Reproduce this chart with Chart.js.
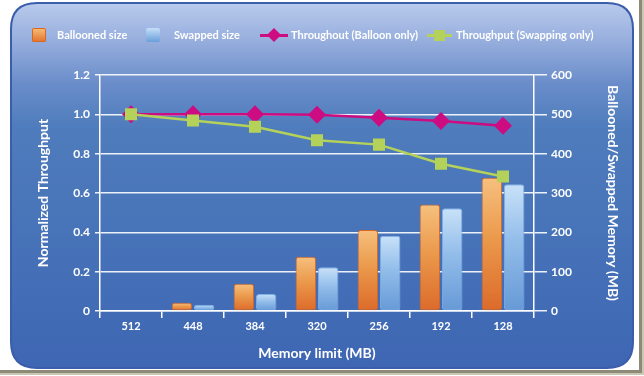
<!DOCTYPE html>
<html>
<head>
<meta charset="utf-8">
<script src="https://cdn.jsdelivr.net/npm/chart.js@4.4.1/dist/chart.umd.min.js"></script>
<style>
  html, body { margin: 0; padding: 0; background: #fff; }
  #wrap { position: relative; width: 644px; height: 376px; }
  canvas { position: absolute; left: 0; top: 0; }
  .lg { position: absolute; top: 27px; height: 16px; font: bold 11px Lato, "Open Sans", sans-serif; color: #fff; line-height: 16px; white-space: nowrap; }
  .sw { position: absolute; }
</style>
</head>
<body>
<div id="wrap">
  <canvas id="c" width="644" height="376"></canvas>
  <div id="legend"></div>
</div>
<script>
// ---- data ----
const categories = ['512', '448', '384', '320', '256', '192', '128'];
const balloonedSize = [0, 21, 69, 138, 206, 271, 339];
const swappedSize = [0, 16, 43, 111, 191, 261, 322];
const throughputBalloon = [1.0, 1.0, 1.0, 0.998, 0.983, 0.966, 0.942];
const throughputSwap = [1.0, 0.969, 0.937, 0.868, 0.846, 0.749, 0.684];
const leftTickLabels = ['0', '0.2', '0.4', '0.6', '0.8', '1.0', '1.2'];
const rightTickLabels = ['0', '100', '200', '300', '400', '500', '600'];
const seriesNames = ['Ballooned size', 'Swapped size', 'Throughout (Balloon only)', 'Throughput (Swapping only)'];

const FONT = 'Lato, "Open Sans", sans-serif';
const MAGENTA = '#cc0c80';
const GREEN = '#b4d25a';

// ---- legend (HTML) ----
(function () {
  const lg = document.getElementById('legend');
  const items = [
    { sw: '<div class="sw" style="left:32px;top:28px;width:14px;height:14px;border-radius:2px;background:linear-gradient(#f6c07a,#e2712c);box-shadow:0 0 0 1px #d9681f inset"></div>', tx: 57 },
    { sw: '<div class="sw" style="left:146px;top:28px;width:14px;height:14px;border-radius:2px;background:linear-gradient(#c4def7,#6a9fdb)"></div>', tx: 174 },
    { sw: '<div class="sw" style="left:260px;top:34px;width:28px;height:2.5px;background:' + MAGENTA + '"></div><div class="sw" style="left:269px;top:30px;width:10px;height:10px;background:' + MAGENTA + ';transform:rotate(45deg)"></div>', tx: 291 },
    { sw: '<div class="sw" style="left:427px;top:34px;width:25px;height:2.5px;background:' + GREEN + '"></div><div class="sw" style="left:434px;top:30px;width:11px;height:11px;background:' + GREEN + '"></div>', tx: 456 }
  ];
  let html = '';
  items.forEach((it, i) => {
    html += it.sw + '<div class="lg" style="left:' + it.tx + 'px">' + seriesNames[i] + '</div>';
  });
  lg.innerHTML = html;
})();

// ---- background plugin ----
function roundRect(ctx, x, y, w, h, r) {
  ctx.beginPath();
  ctx.moveTo(x + r, y);
  ctx.lineTo(x + w - r, y);
  ctx.quadraticCurveTo(x + w, y, x + w, y + r);
  ctx.lineTo(x + w, y + h - r);
  ctx.quadraticCurveTo(x + w, y + h, x + w - r, y + h);
  ctx.lineTo(x + r, y + h);
  ctx.quadraticCurveTo(x, y + h, x, y + h - r);
  ctx.lineTo(x, y + r);
  ctx.quadraticCurveTo(x, y, x + r, y);
  ctx.closePath();
}
const bgPlugin = {
  id: 'bg',
  beforeDraw(chart) {
    const ctx = chart.ctx;
    ctx.save();
    ctx.fillStyle = '#ffffff';
    ctx.fillRect(0, 0, chart.width, chart.height);
    ctx.fillStyle = '#8d8b78';
    ctx.fillRect(639, 0, 3, 373);
    ctx.fillRect(0, 370, 642, 3);
    ctx.fillStyle = '#c9c6b4';
    ctx.fillRect(642, 0, 2, 374);
    ctx.fillRect(0, 373, 644, 2);
    const g = ctx.createLinearGradient(0, 3, 0, 368);
    g.addColorStop(0, '#b8caec');
    g.addColorStop(0.10, '#98afde');
    g.addColorStop(0.22, '#6a8dca');
    g.addColorStop(0.34, '#4f7cbc');
    g.addColorStop(0.6, '#4874b9');
    g.addColorStop(1, '#3e66b3');
    roundRect(ctx, 11, 3, 622, 365, 26);
    ctx.fillStyle = g;
    ctx.fill();
    ctx.lineWidth = 2;
    ctx.strokeStyle = '#3a5eac';
    ctx.stroke();
    ctx.restore();
  }
};

function barGradient(stops) {
  return function (c) {
    const chart = c.chart;
    if (!chart.chartArea || c.type !== 'data') return stops[stops.length - 1];
    const s = chart.scales.y2;
    const y0 = s.getPixelForValue(c.raw);
    let y1 = s.getPixelForValue(0);
    if (y1 - y0 < 1) y1 = y0 + 1;
    const g = chart.ctx.createLinearGradient(0, y0, 0, y1);
    g.addColorStop(0, stops[0]);
    g.addColorStop(0.45, stops[1]);
    g.addColorStop(1, stops[2]);
    return g;
  };
}

const tickFont = { family: FONT, size: 12, weight: 'bold' };
const titleFont = { family: FONT, size: 14, weight: 'bold' };

new Chart(document.getElementById('c'), {
  type: 'bar',
  data: {
    labels: categories,
    datasets: [
      {
        type: 'line', label: seriesNames[2], data: throughputBalloon, yAxisID: 'y', order: 1,
        borderColor: MAGENTA, backgroundColor: MAGENTA, borderWidth: 2.5,
        pointStyle: 'rectRot', pointRadius: 9, pointBorderWidth: 0, tension: 0
      },
      {
        type: 'line', label: seriesNames[3], data: throughputSwap, yAxisID: 'y', order: 0,
        borderColor: GREEN, backgroundColor: GREEN, borderWidth: 2.5,
        pointStyle: 'rect', pointRadius: 8.5, pointBorderWidth: 0, tension: 0
      },
      {
        label: seriesNames[0], data: balloonedSize, yAxisID: 'y2', order: 2,
        backgroundColor: barGradient(['#f6c07e', '#eb9a4c', '#dc6a2a']),
        borderColor: '#d9651f', borderWidth: 1, borderRadius: 3, borderSkipped: false,
        categoryPercentage: 0.72, barPercentage: 0.92
      },
      {
        label: seriesNames[1], data: swappedSize, yAxisID: 'y2', order: 2,
        backgroundColor: barGradient(['#c8e1f8', '#92bdea', '#6699d6']),
        borderColor: '#7fb0e6', borderWidth: 1, borderRadius: 3, borderSkipped: false,
        categoryPercentage: 0.72, barPercentage: 0.92
      }
    ]
  },
  options: {
    responsive: false,
    animation: false,
    devicePixelRatio: 1,
    layout: { padding: { top: 75, left: 0, right: 0, bottom: 0 } },
    plugins: { legend: { display: false }, tooltip: { enabled: false } },
    scales: {
      x: {
        afterFit(s) { s.height = 65; },
        grid: { display: true, drawOnChartArea: false, drawTicks: true, tickLength: 7, color: '#ffffff', lineWidth: 1.5, offset: true },
        border: { display: true, color: '#ffffff', width: 1.5 },
        ticks: { color: '#ffffff', font: { family: FONT, size: 11, weight: 'bold' }, padding: 2 },
        title: { display: true, text: 'Memory limit (MB)', color: '#ffffff', font: titleFont, padding: { top: 0, bottom: 14 } }
      },
      y: {
        position: 'left', min: 0, max: 1.2,
        afterFit(s) { s.width = 100; },
        afterBuildTicks(s) { s.ticks = leftTickLabels.map(t => ({ value: parseFloat(t) })); },
        grid: { color: 'rgba(255,255,255,0.9)', lineWidth: 1.5, tickLength: 5 },
        border: { display: true, color: '#ffffff', width: 1.5 },
        ticks: { color: '#ffffff', font: tickFont, padding: 5, callback: (v, i) => leftTickLabels[i] },
        title: { display: true, text: 'Normalized Throughput', color: '#ffffff', font: titleFont, padding: { top: 35, bottom: 0 } }
      },
      y2: {
        position: 'right', min: 0, max: 600,
        afterFit(s) { s.width = 110; },
        afterBuildTicks(s) { s.ticks = rightTickLabels.map(t => ({ value: parseFloat(t) })); },
        grid: { drawOnChartArea: false, color: 'rgba(255,255,255,0.9)', lineWidth: 1.5, tickLength: 13 },
        border: { display: true, color: '#ffffff', width: 1.5 },
        ticks: { color: '#ffffff', font: tickFont, padding: 4, callback: (v, i) => rightTickLabels[i] },
        title: { display: true, text: 'Ballooned/Swapped Memory (MB)', color: '#ffffff', font: titleFont, padding: { top: 23, bottom: 0 } }
      }
    }
  },
  plugins: [bgPlugin]
});
</script>
</body>
</html>
